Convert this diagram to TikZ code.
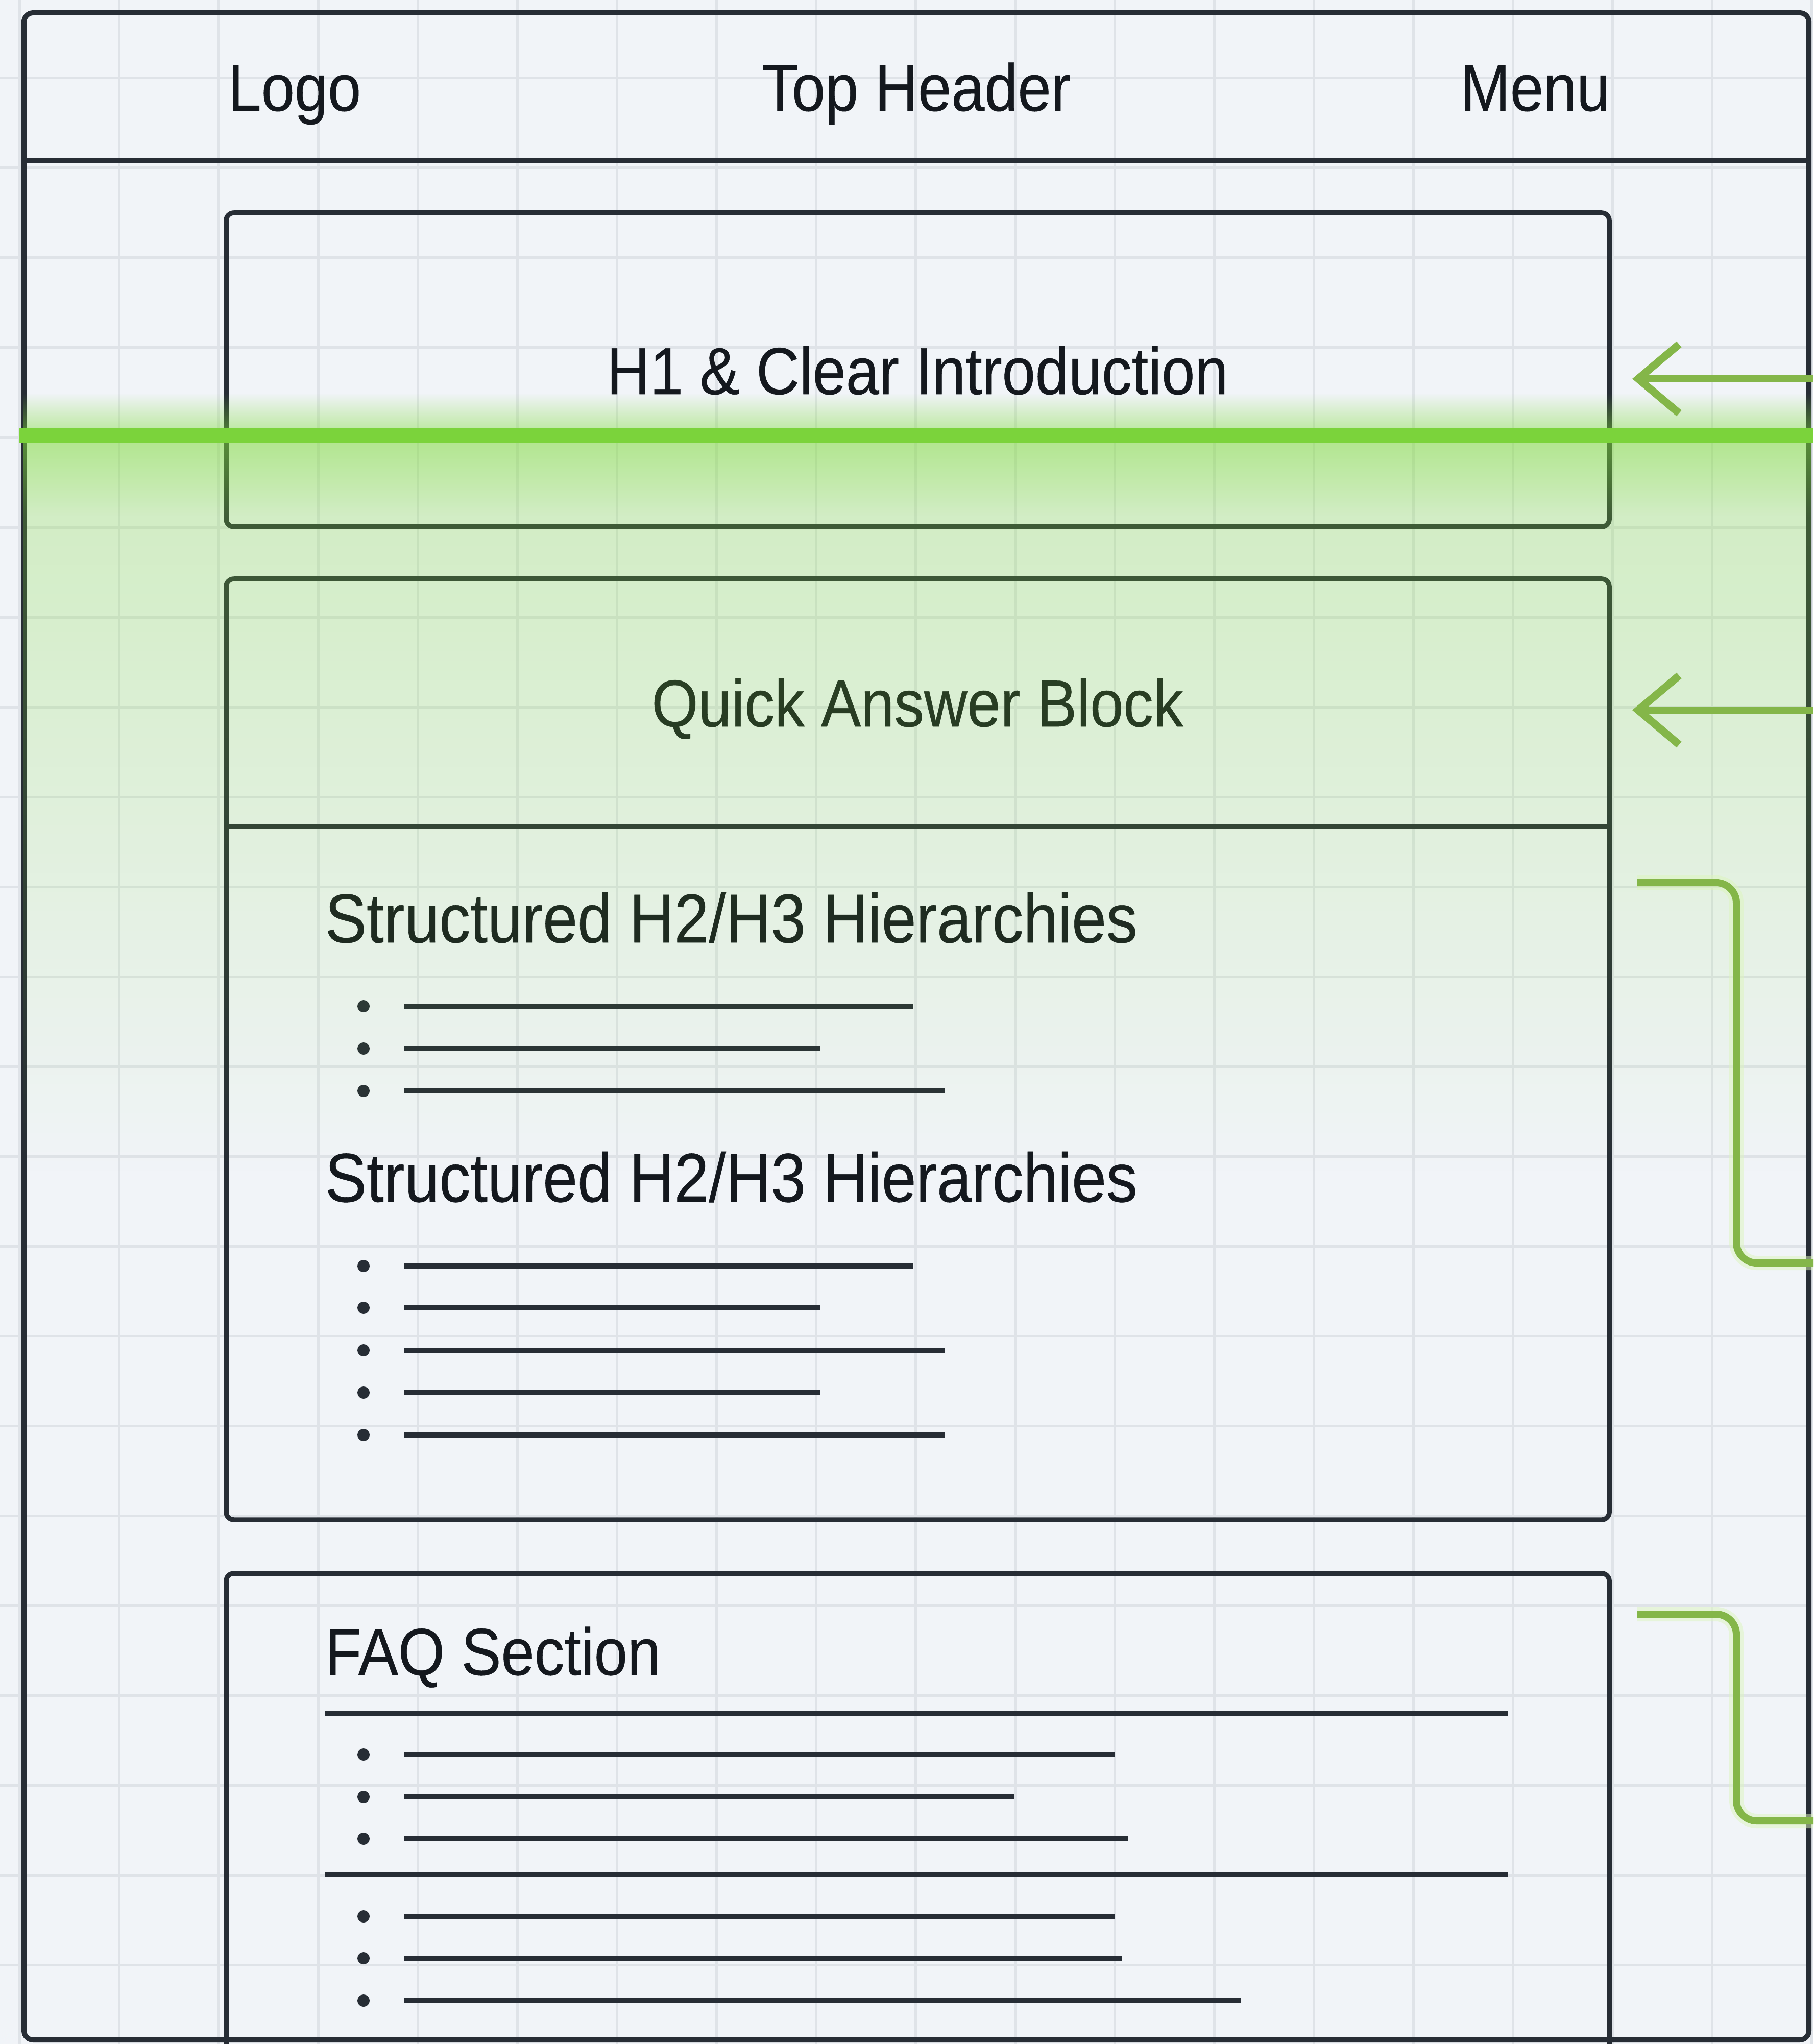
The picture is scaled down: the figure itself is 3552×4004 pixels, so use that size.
\documentclass[tikz,border=0pt]{standalone}
\usepackage{fontspec}
\setmainfont{Liberation Sans}[FakeStretch=0.9, FakeBold=0.4]
\usetikzlibrary{arrows.meta,fadings}
\definecolor{bg}{HTML}{F1F4F8}
\definecolor{gridc}{HTML}{DFE3E8}
\definecolor{ink}{HTML}{272D35}
\definecolor{txt}{HTML}{14181E}
\definecolor{glowg}{HTML}{80DC3C}
\definecolor{limeline}{HTML}{7BD33B}
\definecolor{leaf}{HTML}{84B649}
\definecolor{halo}{HTML}{DDF5BD}
\tikzfading[name=glowup, top color=transparent!100, bottom color=transparent!55]
\tikzfading[name=glowboost, top color=transparent!64, bottom color=transparent!100]
\tikzfading[name=glowbody, top color=transparent!70, middle color=transparent!75, bottom color=transparent!100]
\begin{document}
\begin{tikzpicture}[x=0.01cm,y=-0.01cm,
  gridline/.style={draw=gridc, line width=0.05cm},
  frameline/.style={draw=ink, line width=0.1cm},
  boxline/.style={draw=ink, line width=0.095cm, rounded corners=0.15cm},
  ruleline/.style={draw=ink, line width=0.095cm},
  bulletline/.style={draw=ink, line width=0.095cm},
  txtlabel/.style={text=txt, inner sep=0pt, font=\fontsize{37}{44}\selectfont},
  headlabel/.style={text=txt, inner sep=0pt, font=\fontsize{38.5}{46}\selectfont},
  pointer/.style={draw=leaf, line width=0.15cm, -{Straight Barb[length=0.8cm,width=1.35cm]}},
  bracketline/.style={draw=leaf, line width=0.14cm, rounded corners=0.4cm},
  bracketglow/.style={draw=halo, line width=0.28cm, rounded corners=0.4cm, opacity=0.5}
]
\useasboundingbox (0,0) rectangle (3552,4004);
\clip (0,0) rectangle (3552,4004);
% background and grid
\fill[bg] (0,0) rectangle (3552,4004);
\foreach \i in {0,...,18} \draw[gridline] ({38+195*\i},0) -- ({38+195*\i},4004);
\foreach \k in {0,...,21} \draw[gridline] (0,{153+176*\k}) -- (3552,{153+176*\k});
% outer frame and header
\draw[frameline, rounded corners=0.18cm] (47,25) rectangle (3543,3996);
\draw[frameline] (47,315) -- (3543,315);
\node[txtlabel, anchor=base west] (logo) at (446,217) {Logo};
\node[txtlabel, anchor=base] (tophdr) at (1795,217) {Top Header};
\node[txtlabel, anchor=base east] (menu) at (3154,217) {Menu};
% boxes
\draw[boxline] (443,417) rectangle (3152,1032);
\draw[boxline] (443,1134) rectangle (3152,2977);
\draw[ruleline] (443,1619) -- (3152,1619);
\draw[boxline] (443,3082) rectangle (3152,4150);
\node[txtlabel, anchor=base] (h1) at (1797,772) {H1 \& Clear Introduction};
\node[txtlabel, anchor=base] (qa) at (1797,1423) {Quick Answer Block};
\node[headlabel, anchor=base west] (hierA) at (636,1846) {Structured H2/H3 Hierarchies};
\node[headlabel, anchor=base west] (hierB) at (636,2354) {Structured H2/H3 Hierarchies};
\node[txtlabel, anchor=base west] (faq) at (636,3281) {FAQ Section};
\draw[ruleline] (637,3356) -- (2953,3356);
\draw[ruleline] (637,3672) -- (2953,3672);
\foreach \y/\e in {1971/1788, 2054/1606, 2137/1851, 2480/1788, 2562/1606, 2645/1851, 2728/1607, 2811/1851, 3437/2183, 3520/1987, 3602/2210, 3754/2183, 3836/2198, 3919/2430} {
  \fill[ink] (712,\y) circle (0.12cm);
  \draw[bulletline] (792,\y) -- (\e,\y);
}
% glow
\fill[glowg, path fading=glowup, fit fading=true] (47,770) rectangle (3552,842);
\fill[glowg, path fading=glowbody, fit fading=true] (47,864) rectangle (3552,2300);
\fill[glowg, path fading=glowboost, fit fading=true] (47,864) rectangle (3552,1010);
\draw[limeline, line width=0.28cm] (38,853) -- (3552,853);
% pointers
\coordinate (a1s) at (3552,742);
\coordinate (a1e) at (3197,742);
\coordinate (a2s) at (3552,1391);
\coordinate (a2e) at (3197,1391);
\draw[pointer] (a1s) -- (a1e);
\draw[pointer] (a2s) -- (a2e);
% brackets
\coordinate (b1s) at (3207,1729);
\coordinate (b1c) at (3401,2474);
\coordinate (b1e) at (3552,2474);
\coordinate (b2s) at (3207,3162);
\coordinate (b2c) at (3401,3567);
\coordinate (b2e) at (3552,3567);
\draw[bracketglow] (b1s) -| (b1c) -- (b1e);
\draw[bracketglow] (b2s) -| (b2c) -- (b2e);
\draw[bracketline] (b1s) -| (b1c) -- (b1e);
\draw[bracketline] (b2s) -| (b2c) -- (b2e);
\end{tikzpicture}
\end{document}
